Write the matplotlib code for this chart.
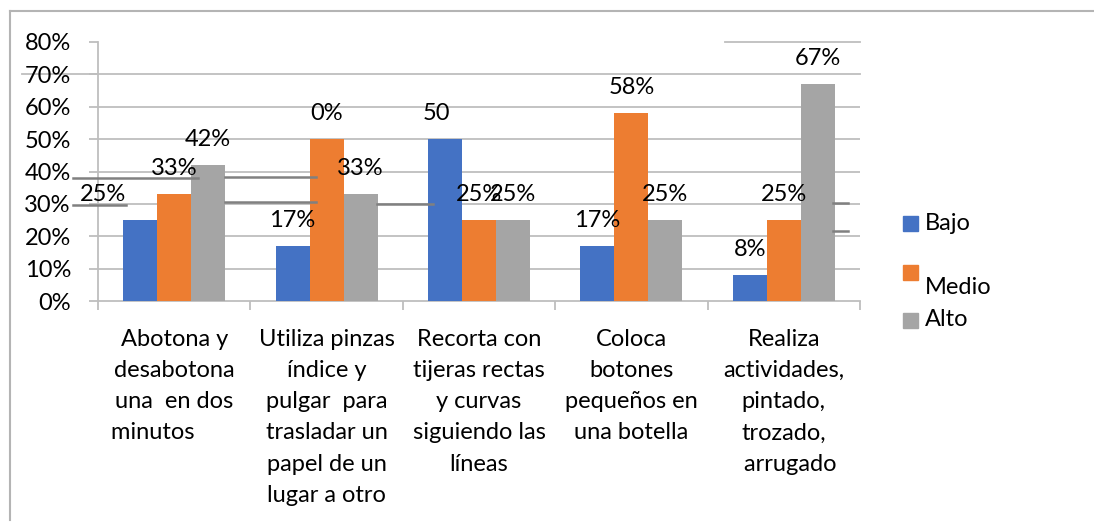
import matplotlib
matplotlib.use("Agg")
import matplotlib.pyplot as plt
from matplotlib.lines import Line2D
from matplotlib.patches import Rectangle
import numpy as np

plt.rcParams['font.family'] = ['Lato', 'DejaVu Sans']

categories = ["Abotona y\ndesabotona\nuna  en dos\nminutos       ",
              "Utiliza pinzas\níndice y\npulgar  para\ntrasladar un\npapel de un\nlugar a otro",
              "Recorta con\ntijeras rectas\ny curvas\nsiguiendo las\nlíneas",
              "Coloca\nbotones\npequeños en\nuna botella",
              "Realiza\nactividades,\npintado,\ntrozado,\n  arrugado"]
series = ["Bajo", "Medio", "Alto"]
bajo = [0.25, 0.17, 0.50, 0.17, 0.08]
medio = [0.33, 0.50, 0.25, 0.58, 0.25]
alto = [0.42, 0.33, 0.25, 0.25, 0.67]
# data labels exactly as printed in the source chart
bajo_lbl = ["25%", "17%", "50", "17%", "8%"]
medio_lbl = ["33%", "0%", "25%", "58%", "25%"]
alto_lbl = ["42%", "33%", "25%", "25%", "67%"]
colors = ["#4472C4", "#ED7D31", "#A5A5A5"]

# stray leftover line segments seen in the picture (x0, x1, y)
strays = [(-0.664, 0.157, 0.380), (0.334, 0.931, 0.383),
          (-0.664, -0.316, 0.297), (0.334, 0.931, 0.306),
          (1.332, 1.700, 0.300), (4.326, 4.418, 0.303),
          (4.326, 4.418, 0.216)]

W, H = 1094, 523
fig = plt.figure(figsize=(W / 100, H / 100), dpi=100)
ax = fig.add_axes([98 / W, (H - 301) / H, (860 - 98) / W, (301 - 42) / H])

grid_c = "#BEBEBE"
# frame of the chart area
fig.add_artist(Line2D([10 / W, 1.0], [1 - 11 / H, 1 - 11 / H], color="#B4B4B4", lw=1.5))
fig.add_artist(Line2D([10 / W, 10 / W], [1 - 11 / H, 1 - 520 / H], color="#B4B4B4", lw=1.5))

x = np.arange(len(categories))
w = 0.223
vals = [bajo, medio, alto]
lbls = [bajo_lbl, medio_lbl, alto_lbl]
for k in range(3):
    ax.bar(x + (k - 1) * w, vals[k], w, color=colors[k], zorder=3)

ax.set_xlim(-0.5, 4.5)
ax.set_ylim(0, 0.8)

# gridlines
for g in [0.1, 0.2, 0.3, 0.4, 0.5, 0.6]:
    ax.axhline(g, color=grid_c, lw=1.3, zorder=1)
ax.plot([-1.0, 4.5], [0.7, 0.7], color=grid_c, lw=1.3, zorder=1, clip_on=False)
ax.plot([3.617, 4.5], [0.8, 0.8], color=grid_c, lw=1.3, zorder=1, clip_on=False)

for x0, x1, yy in strays:
    ax.plot([x0, x1], [yy, yy], color="#808080", lw=1.8, zorder=4, clip_on=False)

# data labels
fs = 17
for k in range(3):
    for i in range(len(categories)):
        dx = 0
        if k == 0 and i == 0:
            dx = -27
        if k == 0 and i == 2:
            dx = -6.5
        ax.annotate(lbls[k][i], (x[i] + (k - 1) * w, vals[k][i]),
                    xytext=(dx, 18.5), textcoords="offset points",
                    ha="center", va="center", fontsize=fs, color="black", zorder=5)

for s in ["top", "right"]:
    ax.spines[s].set_visible(False)
ax.spines["left"].set_color(grid_c)
ax.spines["left"].set_linewidth(1.3)
ax.spines["left"].set_bounds(0, 0.8)
ax.spines["bottom"].set_color(grid_c)
ax.spines["bottom"].set_linewidth(1.3)

ax.set_yticks(np.arange(0, 0.81, 0.1))
ax.set_yticklabels([f"{int(round(t * 100))}%" for t in np.arange(0, 0.81, 0.1)])
ax.tick_params(axis="y", length=6.5, width=1.3, color=grid_c, labelsize=fs, pad=13)

ax.set_xticks(x)
ax.set_xticklabels(categories, fontsize=fs, linespacing=1.6)
ax.tick_params(axis="x", length=0, pad=20)
ax.set_xticks(np.arange(-0.5, 4.6, 1), minor=True)
ax.tick_params(axis="x", which="minor", length=6.5, width=1.3, color=grid_c)

# legend drawn by hand (odd spacing of the original)
leg_y = [223, 272, 320]
txt_y = [223, 288, 320]
for k in range(3):
    fig.add_artist(Rectangle((903 / W, 1 - (leg_y[k] + 7.5) / H), 15 / W, 15 / H,
                             color=colors[k], transform=fig.transFigure))
    fig.text(925 / W, 1 - txt_y[k] / H, series[k], fontsize=fs, va="center", ha="left")

fig.savefig("out.png", dpi=100)
